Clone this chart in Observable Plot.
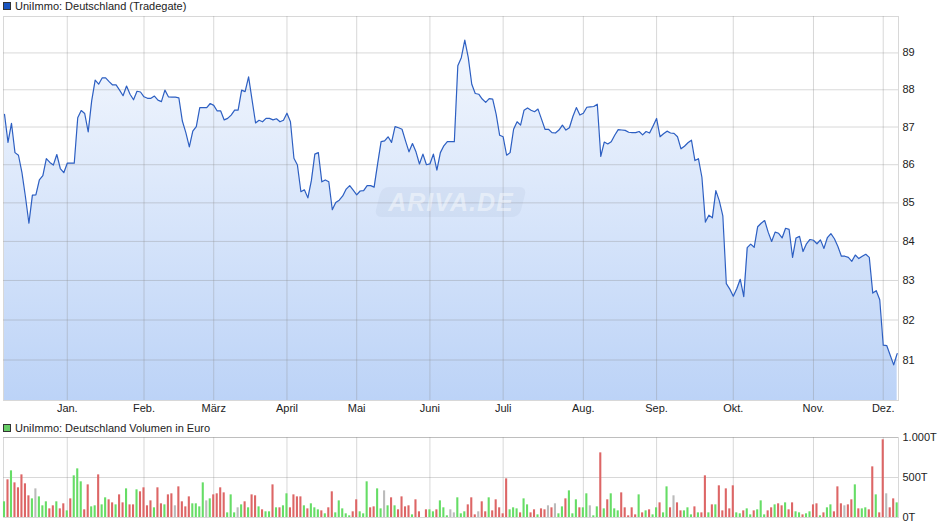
<!DOCTYPE html>
<html><head><meta charset="utf-8">
<script src="https://cdn.jsdelivr.net/npm/d3@7"></script>
<script src="https://cdn.jsdelivr.net/npm/@observablehq/plot@0.6"></script>
<style>
body{margin:0;background:#fff;font-family:"Liberation Sans",Arial,sans-serif;}
#wrap{position:relative;width:940px;height:526px;overflow:hidden;background:#fff;}
.abs{position:absolute;}
.txt{font-size:11px;color:#222;line-height:13px;white-space:nowrap;}
.sw{width:6px;height:6px;border:1px solid #333;}
#wm{left:378px;top:187px;width:145px;height:30px;border-radius:7px;transform:skewX(-14deg);background:rgba(150,168,198,0.12);}
#wmt{left:384px;top:188px;width:134px;height:28px;font:italic bold 25px "Liberation Sans",Arial,sans-serif;color:rgba(255,255,255,0.45);letter-spacing:1px;line-height:28px;text-align:center;}
</style></head>
<body><div id="wrap">
<div class="abs sw" style="left:3px;top:2px;background:#1a55c0;"></div>
<div class="abs txt" style="left:15px;top:0px;">UniImmo: Deutschland (Tradegate)</div>
<div class="abs sw" style="left:3px;top:424px;background:#66cc66;"></div>
<div class="abs txt" style="left:15px;top:422px;">UniImmo: Deutschland Volumen in Euro</div>
<div id="c1" class="abs" style="left:0;top:0;"></div>
<div id="c2" class="abs" style="left:0;top:420px;"></div>
<div id="wm" class="abs"></div>
<div id="wmt" class="abs">ARIVA.DE</div>
</div>
<script>
const months = ["Jan.","Feb.","März","April","Mai","Juni","Juli","Aug.","Sep.","Okt.","Nov.","Dez."];
const monthStart = [18,40,60,81,101,122,143,166,187,209,232,252];
const priceTicks = [81,82,83,84,85,86,87,88,89];
const volTicks = [0,500,1000];
const volTickLabels = ["0T","500T","1.000T"];

const price = [
87.34,86.59,87.10,86.32,86.25,85.79,85.16,84.47,85.20,85.21,
85.60,85.71,86.16,86.06,85.99,86.27,85.90,85.79,86.04,86.04,
86.04,87.25,87.44,87.36,86.87,87.70,88.26,88.15,88.32,88.32,
88.22,88.13,88.13,87.99,87.84,88.10,87.88,87.73,87.96,87.94,
87.81,87.77,87.77,87.83,87.72,87.68,87.99,87.81,87.80,87.80,
87.78,87.16,86.85,86.47,86.89,87.01,87.52,87.52,87.52,87.63,
87.58,87.43,87.43,87.19,87.23,87.32,87.45,87.45,87.99,87.95,
88.35,87.72,87.11,87.18,87.14,87.23,87.23,87.19,87.22,87.14,
87.18,87.37,87.14,86.17,85.99,85.29,85.34,85.13,85.58,86.28,
86.32,85.55,85.60,85.55,84.82,85.01,85.07,85.18,85.36,85.45,
85.33,85.21,85.31,85.32,85.45,85.45,85.41,86.02,86.61,86.63,
86.74,86.59,87.01,86.98,86.94,86.63,86.34,86.56,86.34,86.02,
86.28,86.00,86.02,86.28,85.86,86.32,86.50,86.61,86.61,86.61,
88.65,88.87,89.35,88.87,88.15,87.90,87.88,87.75,87.66,87.76,
87.75,87.34,86.78,86.74,86.25,86.32,86.94,87.14,87.05,87.45,
87.51,87.45,87.41,87.48,87.21,86.94,86.94,86.85,86.84,86.92,
87.05,86.92,86.98,87.28,87.52,87.32,87.37,87.53,87.54,87.55,
87.61,86.22,86.60,86.55,86.61,86.78,86.93,86.92,86.91,86.86,
86.85,86.85,86.88,86.79,86.88,86.84,87.03,87.23,86.74,86.82,
86.89,86.84,86.83,86.74,86.42,86.49,86.58,86.65,86.11,86.16,
85.67,84.50,84.68,84.61,85.32,85.05,84.66,82.92,82.78,82.60,
82.79,83.03,82.59,83.84,83.93,83.85,84.38,84.47,84.54,84.24,
84.00,84.24,84.21,84.09,84.34,84.31,83.59,84.09,84.13,83.74,
83.94,84.05,84.03,83.94,84.04,83.82,84.10,84.20,84.07,83.87,
83.62,83.62,83.59,83.49,83.65,83.56,83.62,83.67,83.59,82.68,
82.74,82.51,81.37,81.36,81.12,80.88,81.16];

const volume = [
196,471,583,433,371,533,421,271,233,358,
258,146,196,108,146,196,108,171,83,233,
521,608,446,96,408,133,146,533,158,246,
221,183,158,283,183,358,158,158,346,321,
371,146,208,121,371,171,158,283,296,146,
383,196,133,258,171,171,133,433,208,233,
283,296,371,308,58,283,58,121,158,196,
121,283,271,133,96,71,71,408,121,121,
146,296,121,283,258,258,146,108,171,121,
96,83,46,121,321,58,208,108,46,21,
71,221,71,46,446,121,133,358,108,333,
146,246,146,96,258,133,146,33,221,71,
0,96,96,71,96,208,121,21,96,58,
246,46,71,158,246,33,71,196,71,246,
83,221,121,46,483,96,121,108,58,233,
158,58,96,33,108,96,146,121,171,46,
133,233,333,46,221,121,121,296,146,21,
133,808,108,221,296,108,83,308,121,21,
121,33,283,58,83,96,33,121,183,58,
383,121,271,183,83,83,121,33,133,58,
58,521,58,158,158,396,83,358,108,396,
58,46,83,108,33,83,96,208,33,83,
121,158,171,146,183,96,183,71,58,33,
46,71,158,171,21,58,121,158,71,383,
171,146,158,221,408,108,108,121,96,633,
283,58,971,296,121,233,183];

// g = up (green), r = down (red), n = unchanged (grey)
const volDir = (
"grgrrrrrgn gggrrgrrgr gggrrggrgg rrgrrgrrgr rrrgrrgrrn " +
"rrrrggggng rrrrgggngr grrgrggrgr ggrrrrgrgg grgrrggggg " +
"rrgggrrggn grgrrrrgrr nrggrgggnn gggrrrnrrg rrrrrgggrg " +
"grrgrrnrng grgggrggng grgrgggrrr rrgrgrggrg grnrrgggrg " +
"rrgrgrrrrr ggrggrgggr rgrrgrrggr ggrrgrggrr rnrrgrggrr grrnrrg").replace(/ /g,"").split("");

const pdata = price.map((p, i) => ({i, p}));
const vdata = volume.map((v, i) => ({i, v, c: volDir[i]}));

const font = {fontFamily: "'Liberation Sans', Arial, sans-serif", fontSize: "11px", color: "#222", background: "transparent", overflow: "visible"};
const xDomain = [-0.29, 256.38];
const gridStroke = {stroke: "#8a8a8a", strokeOpacity: 0.33};

const c1 = Plot.plot({
  width: 940, height: 418,
  marginTop: 16, marginBottom: 18, marginLeft: 3, marginRight: 42,
  style: font,
  x: {type: "linear", domain: xDomain},
  y: {type: "log", domain: [80, 90]},
  marks: [
    Plot.areaY(pdata, {x: "i", y1: 80, y2: "p", fill: "url(#pgrad)"}),
    Plot.gridY(priceTicks, gridStroke),
    Plot.gridX(monthStart, gridStroke),
    Plot.frame(gridStroke),
    Plot.lineY(pdata, {x: "i", y: "p", stroke: "#2d5fc2", strokeWidth: 1.2}),
    Plot.axisY(priceTicks, {anchor: "right", tickSize: 0, tickPadding: 4, label: null, tickFormat: d => String(d)}),
    Plot.axisX(monthStart, {anchor: "bottom", tickSize: 0, tickPadding: 4, label: null, tickFormat: d => months[monthStart.indexOf(d)]})
  ]
});
d3.select(c1).insert("defs", ":first-child").html(
  '<linearGradient id="pgrad" gradientUnits="userSpaceOnUse" x1="0" y1="16" x2="0" y2="400">' +
  '<stop offset="0" stop-color="#f6f9fe"/><stop offset="1" stop-color="#bcd3f7"/></linearGradient>');
document.getElementById("c1").appendChild(c1);

const c2 = Plot.plot({
  width: 940, height: 106,
  marginTop: 17, marginBottom: 9, marginLeft: 3, marginRight: 42,
  style: font,
  x: {type: "linear", domain: xDomain, axis: null},
  y: {domain: [0, 1000]},
  color: {domain: ["g", "r", "n"], range: ["#66dd66", "#dd6666", "#bbbbbb"]},
  marks: [
    Plot.gridY([500, 1000], gridStroke),
    Plot.gridX(monthStart, gridStroke),
    Plot.frame(gridStroke),
    Plot.rectY(vdata, {x1: d => d.i - 0.3, x2: d => d.i + 0.3, y1: 0, y2: "v", fill: "c"}),
    Plot.axisY(volTicks, {anchor: "right", tickSize: 0, tickPadding: 4, label: null, tickFormat: d => volTickLabels[volTicks.indexOf(d)]})
  ]
});
document.getElementById("c2").appendChild(c2);
</script>
</body></html>
